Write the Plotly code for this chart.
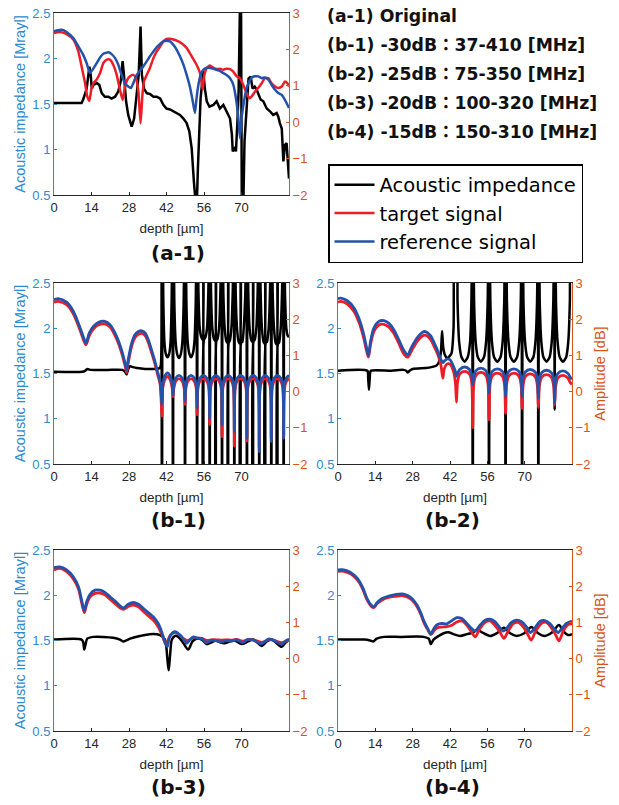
import plotly.graph_objects as go

# ---------------- DATA ----------------
# (a-1) Original
A1_IMP_DEPTH = [0, 10.3, 10.9, 12.2, 13.2, 13.7, 14.1, 14.7, 15.9, 16.9, 17.8, 19.0, 20.3, 21.5, 22.8, 24.0, 24.9, 25.6, 26.1,
                26.9, 27.7, 29.0, 29.9, 30.8, 31.6, 32.3, 32.8, 33.6, 34.6, 35.8, 37.1, 38.3, 39.6, 40.8, 42.0, 43.3, 45.1,
                47.0, 48.3, 49.5, 50.5, 51.4, 52.2, 52.7, 53.2, 53.7, 54.2, 54.7, 55.2, 55.7, 56.3, 57.0, 58.0, 59.5, 60.7,
                61.9, 63.2, 64.4, 65.7, 66.4, 66.7, 67.4, 67.9, 68.4, 68.9, 69.4, 69.8, 70.1, 70.6, 71.1, 71.9, 72.6, 73.4,
                74.1, 74.9, 75.6, 76.4, 77.1, 78.1, 79.4, 80.6, 81.8, 83.1, 83.7, 84.3, 85.0, 85.6, 86.2, 86.8, 87.3, 87.7]
A1_IMP = [1.51, 1.51, 1.55, 1.67, 1.91, 1.82, 1.67, 1.71, 1.73, 1.71, 1.62, 1.58, 1.58, 1.56, 1.58, 1.64, 1.75, 1.97, 1.82,
          1.53, 1.38, 1.25, 1.34, 1.64, 1.82, 2.35, 1.82, 1.67, 1.62, 1.61, 1.58, 1.58, 1.56, 1.49, 1.45, 1.44, 1.41,
          1.38, 1.34, 1.29, 1.20, 1.01, 0.65, 0.30, 0.30, 0.79, 1.27, 1.56, 1.71, 1.86, 1.67, 1.53, 1.47, 1.49, 1.53,
          1.45, 1.49, 1.42, 1.34, 1.16, 0.98, 1.01, 0.98, 1.27, 1.64, 2.60, 2.60, 0.30, 0.30, 1.09, 1.45, 1.78, 1.80,
          1.67, 1.69, 1.66, 1.60, 1.55, 1.53, 1.45, 1.42, 1.38, 1.40, 1.36, 1.29, 1.23, 0.87, 1.05, 1.07, 0.87, 0.68]

A1_TGT_DEPTH = [0, 2.2, 4.7, 7.2, 9.1, 10.3, 11.6, 12.4, 13.2, 13.9, 14.7, 15.9, 17.2, 18.4, 19.7, 20.9, 22.1, 23.4, 24.6,
                25.6, 26.4, 27.4, 28.4, 29.6, 30.6, 31.5, 32.3, 33.0, 33.6, 34.6, 35.8, 37.1, 38.3, 39.6, 40.8, 42.0, 43.3,
                44.5, 45.8, 47.6, 49.5, 51.4, 53.2, 54.5, 55.5, 56.0, 57.0, 58.2, 59.5, 60.7, 61.9, 63.2, 64.4, 65.7, 66.9,
                68.2, 69.4, 70.6, 71.9, 72.9, 73.8, 75.0, 76.2, 77.5, 78.7, 80.0, 81.2, 82.5, 83.7, 85.0, 86.2, 87.1, 87.7]
A1_TGT = [2.45, 2.48, 2.42, 2.27, 1.94, 1.53, 1.07, 0.71, 0.59, 0.89, 1.07, 1.17, 1.35, 1.62, 1.72, 1.72, 1.58, 1.30, 0.89,
          0.61, 0.94, 1.17, 1.26, 1.30, 1.21, 0.84, -0.03, 0.75, 1.12, 1.30, 1.49, 1.76, 1.94, 2.08, 2.22, 2.29, 2.29,
          2.27, 2.24, 2.17, 2.04, 1.81, 1.58, 1.35, 0.89, 1.26, 1.49, 1.56, 1.49, 1.46, 1.47, 1.44, 1.47, 1.46, 1.39,
          1.26, 1.21, 1.03, 0.80, 0.66, 0.71, 0.84, 0.94, 1.07, 1.21, 1.21, 1.07, 0.98, 0.94, 0.98, 1.12, 1.07, 0.98]

A1_REF_DEPTH = [0, 1.0, 2.9, 4.7, 7.2, 9.1, 10.9, 12.2, 13.4, 14.4, 15.9, 17.2, 18.4, 20.3, 21.5, 22.8, 24.0, 25.2, 26.5,
                27.7, 28.7, 29.6, 30.6, 31.8, 33.3, 34.6, 35.8, 37.1, 38.3, 39.6, 40.8, 42.0, 43.3, 44.5, 45.8, 47.0, 48.3,
                49.5, 50.7, 51.7, 52.6, 53.2, 53.9, 54.7, 55.7, 57.0, 58.2, 59.5, 60.7, 61.9, 63.2, 64.4, 65.7, 66.9, 67.9,
                68.8, 69.4, 70.0, 70.9, 71.9, 72.9, 73.8, 75.0, 76.2, 77.5, 78.7, 80.0, 81.2, 82.5, 83.7, 85.0, 86.2, 87.1, 87.7]
A1_REF = [2.50, 2.52, 2.54, 2.48, 2.31, 2.08, 1.85, 1.62, 1.35, 1.44, 1.62, 1.78, 1.88, 1.92, 1.87, 1.76, 1.58, 1.30, 1.07,
          0.98, 0.94, 1.07, 1.26, 1.39, 1.53, 1.67, 1.81, 1.94, 2.06, 2.15, 2.22, 2.24, 2.22, 2.13, 1.99, 1.81, 1.58,
          1.30, 0.98, 0.61, 0.25, 0.66, 1.03, 1.30, 1.44, 1.49, 1.49, 1.47, 1.44, 1.41, 1.35, 1.30, 1.21, 1.03, 0.66,
          0.11, -0.44, 0.11, 0.57, 0.94, 1.12, 1.23, 1.26, 1.26, 1.21, 1.23, 1.17, 1.03, 0.89, 0.80, 0.75, 0.61, 0.48, 0.39]

# (b-1) -30dB
B1_IMP_DEPTH = [0, 10.5, 11.6, 12.4, 13.5, 20.0, 25.5, 26.5, 27.1, 27.7, 28.4, 29.5, 31.0, 34.0, 37.0, 39.5, 39.9,
                40.1, 40.3, 40.5, 40.8, 41.2, 41.7, 42.35, 43.0, 43.5, 43.9, 44.2,
                44.4, 44.6, 44.9, 45.4, 46.0, 46.65, 47.3, 47.9, 48.4, 48.7,
                48.9, 49.1, 49.4, 49.9, 50.5, 51.15, 51.8, 52.4, 52.9, 53.2,
                53.4, 53.6, 53.9, 54.4, 55.0, 55.55, 55.7, 55.8, 55.95, 56.5, 57.1, 57.6, 57.9,
                58.1, 58.3, 58.6, 59.1, 59.7, 60.2, 60.35, 60.45, 60.6, 61.0, 61.6, 62.1, 62.5,
                62.7, 62.9, 63.2, 63.7, 64.3, 64.8, 64.95, 65.05, 65.2, 65.6, 66.2, 66.7, 67.1,
                67.3, 67.5, 67.8, 68.3, 68.9, 69.45, 69.6, 69.7, 69.85, 70.3, 70.8, 71.4, 71.8,
                72.0, 72.2, 72.5, 73.0, 73.6, 74.1, 74.25, 74.35, 74.5, 74.9, 75.5, 76.0, 76.4,
                76.6, 76.8, 77.1, 77.6, 78.2, 78.65, 78.8, 78.9, 79.05, 79.5, 80.1, 80.6, 80.9,
                81.1, 81.3, 81.6, 82.1, 82.7, 83.2, 83.35, 83.45, 83.6, 84.0, 84.6, 85.1, 85.5,
                85.7, 85.9, 86.2, 86.7, 87.2, 87.7]
B1_IMP = [1.52, 1.52, 1.53, 1.55, 1.54, 1.54, 1.54, 1.52, 1.49, 1.55, 1.58, 1.57, 1.56, 1.55, 1.55, 1.56, 1.60,
          3.2, -1.5, 3.2, 2.3, 1.85, 1.72, 1.68, 1.72, 1.85, 2.3, 3.2,
          -1.5, 3.2, 2.3, 1.85, 1.71, 1.67, 1.71, 1.85, 2.3, 3.2,
          -1.5, 3.2, 2.3, 1.85, 1.72, 1.68, 1.72, 1.85, 2.3, 3.2,
          -1.5, 3.2, 2.4, 2.0, 1.9, 1.87, 3.2, -1.5, 1.87, 1.9, 2.0, 2.4, 3.2,
          -1.5, 3.2, 2.4, 2.0, 1.88, 1.86, 3.2, -1.5, 1.86, 1.88, 2.0, 2.4, 3.2,
          -1.5, 3.2, 2.4, 2.0, 1.86, 1.84, 3.2, -1.5, 1.84, 1.86, 2.0, 2.4, 3.2,
          -1.5, 3.2, 2.4, 2.0, 1.85, 1.83, 3.2, -1.5, 1.84, 1.85, 2.0, 2.4, 3.2,
          -1.5, 3.2, 2.4, 2.0, 1.87, 1.85, 3.2, -1.5, 1.86, 1.87, 2.0, 2.4, 3.2,
          -1.5, 3.2, 2.4, 2.0, 1.85, 1.83, 3.2, -1.5, 1.84, 1.85, 2.0, 2.4, 3.2,
          -1.5, 3.2, 2.4, 2.0, 1.84, 1.82, 3.2, -1.5, 1.83, 1.84, 2.0, 2.4, 3.2,
          -1.5, 3.2, 2.4, 2.0, 1.92, 1.9]

B1_SIG_DEPTH = [0, 1.6, 4.7, 7.2, 9.1, 10.9, 11.9, 13.2, 14.7, 16.5, 19.0, 20.9, 23.4, 25.2, 26.5, 27.1, 27.7, 29.0, 30.2,
                31.5, 32.7, 34.0, 35.2, 36.4, 37.7, 38.6, 39.6, 40.3,
                40.6, 41.3, 42.35, 43.4, 44.1, 44.4,
                44.7, 45.4, 46.65, 47.9, 48.6, 48.9,
                49.2, 49.9, 51.15, 52.4, 53.1, 53.4,
                53.7, 54.4, 55.75, 57.1, 57.8, 58.1,
                58.4, 59.1, 60.4, 61.7, 62.4, 62.7,
                63.0, 63.7, 65.0, 66.3, 67.0, 67.3,
                67.6, 68.3, 69.65, 71.0, 71.7, 72.0,
                72.3, 73.0, 74.3, 75.6, 76.3, 76.6,
                76.9, 77.6, 78.85, 80.1, 80.8, 81.1,
                81.4, 82.1, 83.4, 84.7, 85.4, 85.7,
                86.0, 86.7, 87.7]
B1_TGT = [2.47, 2.49, 2.40, 2.15, 1.82, 1.45, 1.29, 1.55, 1.73, 1.84, 1.87, 1.78, 1.45, 1.08, 0.72, 0.52, 0.80, 1.26, 1.49,
          1.58, 1.61, 1.55, 1.36, 1.08, 0.76, 0.49, 0.20, -0.68,
          0.10, 0.32, 0.42, 0.32, 0.10, -0.14,
          0.08, 0.28, 0.36, 0.28, 0.08, -0.36,
          0.08, 0.28, 0.36, 0.28, 0.08, -0.64,
          0.08, 0.28, 0.36, 0.28, 0.08, -0.91,
          0.08, 0.28, 0.36, 0.28, 0.08, -1.24,
          0.08, 0.28, 0.36, 0.28, 0.08, -1.51,
          0.08, 0.28, 0.36, 0.28, 0.08, -1.37,
          0.08, 0.28, 0.36, 0.28, 0.08, -1.57,
          0.08, 0.28, 0.36, 0.28, 0.08, -1.33,
          0.08, 0.28, 0.36, 0.28, 0.08, -1.28,
          0.08, 0.28, 0.36]
B1_REF = [2.54, 2.57, 2.47, 2.22, 1.89, 1.52, 1.34, 1.62, 1.80, 1.91, 1.94, 1.85, 1.52, 1.15, 0.79, 0.60, 0.88, 1.34, 1.57,
          1.66, 1.68, 1.62, 1.43, 1.15, 0.83, 0.56, 0.28, -0.35,
          0.20, 0.42, 0.52, 0.42, 0.20, -0.09,
          0.17, 0.37, 0.45, 0.37, 0.17, -0.27,
          0.17, 0.37, 0.45, 0.37, 0.17, -0.46,
          0.17, 0.37, 0.45, 0.37, 0.17, -0.74,
          0.17, 0.37, 0.45, 0.37, 0.17, -0.92,
          0.17, 0.37, 0.45, 0.37, 0.17, -1.10,
          0.17, 0.37, 0.45, 0.37, 0.17, -1.29,
          0.17, 0.37, 0.45, 0.37, 0.17, -1.66,
          0.17, 0.37, 0.45, 0.37, 0.17, -1.38,
          0.17, 0.37, 0.45, 0.37, 0.17, -1.29,
          0.17, 0.37, 0.45]

# (b-2) -25dB
B2_IMP_DEPTH = [0, 11.0, 11.3, 11.6, 11.9, 12.3, 20.0, 24.5, 25.6, 26.1, 26.8, 28.0, 33.0, 35.0, 37.0, 38.0, 38.6, 39.0,
                39.4, 40.0, 41.0, 42.5, 43.3, 43.9,
                44.4, 44.8, 45.4, 46.3, 47.45, 48.6, 49.5, 50.0, 50.3,
                50.5, 50.7, 51.0, 51.6, 52.4, 53.55, 54.7, 55.5, 56.1, 56.4,
                56.6, 56.8, 57.1, 57.7, 58.5, 59.7, 60.9, 61.7, 62.3, 62.6,
                62.8, 63.0, 63.3, 63.9, 64.7, 65.9, 67.1, 67.9, 68.5, 68.8,
                69.0, 69.2, 69.5, 70.1, 70.9, 72.05, 73.2, 74.0, 74.6, 74.9,
                75.1, 75.3, 75.6, 76.2, 77.0, 78.15, 79.3, 80.1, 80.7, 81.0,
                81.2, 81.4, 81.7, 82.3, 83.1, 84.3, 85.5, 86.3, 86.9, 87.3, 87.7]
B2_IMP = [1.53, 1.53, 1.45, 1.32, 1.45, 1.53, 1.53, 1.54, 1.53, 1.51, 1.53, 1.55, 1.56, 1.57, 1.59, 1.64, 1.75, 1.97,
          1.80, 1.71, 1.67, 1.72, 2.0, 3.2,
          3.2, 2.3, 1.85, 1.68, 1.63, 1.68, 1.85, 2.3, 3.2,
          -1.5, 3.2, 2.3, 1.85, 1.68, 1.63, 1.68, 1.85, 2.3, 3.2,
          -1.5, 3.2, 2.3, 1.85, 1.68, 1.63, 1.68, 1.85, 2.3, 3.2,
          -1.5, 3.2, 2.3, 1.85, 1.68, 1.63, 1.68, 1.85, 2.3, 3.2,
          -1.5, 3.2, 2.3, 1.85, 1.68, 1.63, 1.68, 1.85, 2.3, 3.2,
          -1.5, 3.2, 2.3, 1.85, 1.68, 1.63, 1.68, 1.85, 2.3, 3.2,
          1.1, 3.2, 2.3, 1.85, 1.68, 1.63, 1.68, 1.85, 2.3, 3.2, 3.2]

B2_SIG_DEPTH = [0, 1.0, 3.5, 6.0, 7.8, 9.5, 10.6, 11.4, 12.2, 13.4, 15.3, 17.2, 19.0, 20.9, 22.8, 24.6, 26.1, 27.7, 29.6,
                31.5, 32.7, 34.6, 36.4, 37.7, 38.6, 39.3, 39.8, 40.8, 42.0, 43.3, 44.0, 44.4,
                44.8, 45.6, 47.45, 49.3, 50.1, 50.5,
                50.9, 51.7, 53.55, 55.4, 56.2, 56.6,
                57.0, 57.8, 59.7, 61.6, 62.4, 62.8,
                63.2, 64.0, 65.9, 67.8, 68.6, 69.0,
                69.4, 70.2, 72.05, 73.9, 74.7, 75.1,
                75.5, 76.3, 78.15, 80.0, 80.8, 81.2,
                81.6, 82.4, 84.3, 86.2, 87.0, 87.7]
B2_TGT = [2.47, 2.49, 2.42, 2.21, 1.93, 1.52, 1.16, 0.95, 1.30, 1.65, 1.84, 1.86, 1.79, 1.61, 1.33, 1.05, 0.95, 1.15, 1.38,
          1.53, 1.56, 1.45, 1.19, 0.96, 0.72, 0.37, 0.62, 0.76, 0.76, 0.55, 0.25, -0.29,
          0.25, 0.48, 0.56, 0.48, 0.25, -1.00,
          0.22, 0.45, 0.53, 0.45, 0.22, -0.78,
          0.20, 0.43, 0.51, 0.43, 0.20, -0.60,
          0.20, 0.43, 0.51, 0.43, 0.20, -0.46,
          0.18, 0.41, 0.49, 0.41, 0.18, -0.44,
          0.16, 0.39, 0.47, 0.39, 0.16, -0.37,
          0.14, 0.37, 0.45, 0.37, 0.25, 0.20]
B2_REF = [2.57, 2.58, 2.51, 2.31, 2.03, 1.62, 1.25, 1.00, 1.39, 1.75, 1.94, 1.96, 1.89, 1.71, 1.43, 1.15, 1.02, 1.25, 1.48,
          1.63, 1.66, 1.55, 1.29, 1.06, 0.88, 0.80, 0.84, 0.90, 0.88, 0.69, 0.55, 0.42,
          0.50, 0.61, 0.68, 0.61, 0.46, 0.19,
          0.43, 0.58, 0.65, 0.58, 0.43, -0.04,
          0.41, 0.56, 0.63, 0.56, 0.41, -0.14,
          0.41, 0.56, 0.63, 0.56, 0.41, -0.14,
          0.39, 0.54, 0.61, 0.54, 0.39, -0.18,
          0.37, 0.52, 0.59, 0.52, 0.37, -0.32,
          0.35, 0.50, 0.57, 0.50, 0.40, 0.34]

# (b-3) -20dB
B3_IMP_DEPTH = [0, 10.3, 10.9, 11.3, 11.8, 12.4, 14.7, 18.4, 22.1, 24.6, 25.9, 28.4, 32.1, 35.8, 39.6, 41.4, 42.3, 42.8,
                43.3, 44.0, 45.1, 46.4, 48.3, 50.1, 51.7, 53.2, 55.1, 57.0, 58.8, 60.4, 61.9, 63.8, 65.7, 67.5, 70.0,
                72.5, 74.4, 77.5, 79.4, 81.2, 85.0, 86.2, 87.7]
B3_IMP = [1.51, 1.51, 1.48, 1.40, 1.46, 1.52, 1.54, 1.54, 1.53, 1.51, 1.49, 1.52, 1.55, 1.57, 1.56, 1.51, 1.30, 1.17,
          1.33, 1.51, 1.55, 1.54, 1.47, 1.40, 1.49, 1.52, 1.51, 1.46, 1.48, 1.50, 1.48, 1.47, 1.49, 1.50, 1.46,
          1.49, 1.51, 1.44, 1.49, 1.51, 1.43, 1.47, 1.51]
B3_SIG_DEPTH = [0, 2.2, 4.7, 7.2, 9.1, 10.3, 11.3, 12.2, 13.4, 15.3, 17.2, 19.0, 20.9, 22.8, 24.6, 25.9, 27.7, 29.6, 31.5,
                33.3, 35.2, 37.1, 38.9, 40.5, 41.5, 42.3, 43.0, 44.3, 45.5, 47.0, 48.3, 49.5, 50.7, 52.0, 53.2, 55.1,
                57.0, 58.8, 60.7, 62.6, 64.4, 66.3, 68.2, 70.4, 72.5, 74.4, 77.5, 80.0, 81.8, 85.0, 86.8, 87.7]
B3_TGT = [2.45, 2.49, 2.40, 2.20, 1.93, 1.55, 1.27, 1.50, 1.70, 1.80, 1.81, 1.76, 1.64, 1.52, 1.40, 1.36, 1.44, 1.48, 1.43,
          1.31, 1.18, 1.06, 0.88, 0.62, 0.45, 0.45, 0.60, 0.70, 0.72, 0.64, 0.55, 0.50, 0.52, 0.58, 0.57, 0.56,
          0.50, 0.52, 0.52, 0.51, 0.52, 0.51, 0.53, 0.48, 0.53, 0.52, 0.45, 0.52, 0.51, 0.44, 0.49, 0.50]
B3_REF = [2.51, 2.53, 2.45, 2.26, 1.99, 1.62, 1.32, 1.57, 1.77, 1.89, 1.89, 1.83, 1.71, 1.59, 1.46, 1.40, 1.50, 1.55, 1.50,
          1.39, 1.27, 1.15, 0.97, 0.67, 0.42, 0.33, 0.57, 0.72, 0.74, 0.65, 0.54, 0.42, 0.52, 0.60, 0.57, 0.56,
          0.44, 0.51, 0.49, 0.46, 0.50, 0.49, 0.52, 0.44, 0.53, 0.51, 0.41, 0.54, 0.51, 0.40, 0.51, 0.53]

# (b-4) -15dB
B4_IMP_DEPTH = [0, 10.0, 12.0, 13.2, 14.5, 17.2, 23.4, 32.1, 34.0, 34.8, 35.8, 37.7, 39.6, 41.4, 43.3, 45.8, 48.3, 50.7,
                52.0, 54.0, 57.0, 59.5, 62.2, 64.5, 66.9, 69.8, 72.5, 75.0, 77.5, 80.3, 82.8, 84.5, 86.2, 87.7]
B4_IMP = [1.51, 1.51, 1.50, 1.49, 1.52, 1.54, 1.54, 1.54, 1.52, 1.46, 1.51, 1.55, 1.58, 1.59, 1.57, 1.55, 1.57, 1.59,
          1.62, 1.59, 1.55, 1.58, 1.64, 1.58, 1.55, 1.58, 1.65, 1.58, 1.55, 1.59, 1.67, 1.60, 1.56, 1.57]
B4_REF_DEPTH = [0, 2.2, 4.7, 7.2, 9.1, 10.9, 12.4, 13.4, 14.7, 16.5, 19.0, 21.5, 24.0, 25.9, 27.7, 29.6, 31.1, 32.3, 33.6,
                34.8, 36.1, 37.3, 38.9, 40.8, 42.7, 44.5, 46.4, 48.3, 50.1, 51.4, 53.2, 55.1, 57.0, 58.8, 60.7, 61.9,
                63.2, 65.0, 66.9, 68.8, 70.6, 72.1, 73.8, 75.6, 77.5, 79.4, 81.2, 82.5, 84.1, 85.6, 87.7]
B4_REF = [2.45, 2.45, 2.38, 2.22, 1.99, 1.66, 1.48, 1.43, 1.55, 1.66, 1.73, 1.77, 1.79, 1.75, 1.66, 1.48, 1.25, 1.02, 0.83,
          0.69, 0.85, 0.94, 0.97, 0.96, 1.05, 1.13, 1.11, 0.97, 0.83, 0.76, 0.92, 1.06, 1.09, 1.02, 0.85, 0.76,
          0.83, 1.00, 1.06, 1.02, 0.88, 0.72, 0.85, 1.02, 1.05, 0.97, 0.81, 0.72, 0.85, 0.97, 1.04]
B4_TGT_DEPTH = [0, 2.2, 4.7, 7.2, 9.1, 10.9, 12.4, 13.4, 14.7, 16.5, 19.0, 21.5, 24.0, 25.9, 27.7, 29.6, 31.1, 32.3, 33.6,
                34.8, 36.1, 37.3, 38.9, 40.8, 42.7, 44.5, 46.4, 48.3, 50.1, 51.4, 53.2, 55.1, 57.0, 58.8, 60.7, 62.2,
                63.8, 65.7, 67.5, 69.4, 70.9, 72.4, 74.1, 76.2, 78.1, 80.0, 81.6, 82.8, 84.6, 86.2, 87.7]
B4_TGT = [2.41, 2.41, 2.34, 2.18, 1.95, 1.62, 1.45, 1.41, 1.52, 1.62, 1.69, 1.72, 1.74, 1.70, 1.62, 1.44, 1.21, 0.98, 0.80,
          0.66, 0.78, 0.85, 0.87, 0.88, 0.92, 1.01, 1.04, 0.92, 0.73, 0.60, 0.83, 1.00, 1.04, 0.92, 0.73, 0.56,
          0.76, 0.97, 1.00, 0.88, 0.70, 0.51, 0.76, 0.97, 1.00, 0.85, 0.65, 0.49, 0.79, 0.94, 0.97]

X_TICKS = [0, 14, 28, 42, 56, 70]
Y_LEFT_TICKS = [0.5, 1, 1.5, 2, 2.5]
Y_LEFT_TEXT = ["0.5", "1", "1.5", "2", "2.5"]
Y_RIGHT_TICKS = [-2, -1, 0, 1, 2, 3]

PANEL_LABELS = ["(a-1)", "(b-1)", "(b-2)", "(b-3)", "(b-4)"]
INFO_LINES = ["(a-1) Original",
              "(b-1) -30dB\uff1a37-410 [MHz]",
              "(b-2) -25dB\uff1a75-350 [MHz]",
              "(b-3) -20dB\uff1a100-320 [MHz]",
              "(b-4) -15dB\uff1a150-310 [MHz]"]
SERIES_NAMES = ["Acoustic impedance", "target signal", "reference signal"]

# ---------------- STYLE ----------------
W, H = 619, 805
BLUE_AX = "#2B8AD0"
ORANGE_AX = "#D95319"
C_IMP = "#000000"
C_TGT = "#EE1C25"
C_REF = "#2452AB"
DARK = "#262626"
FONT = "Liberation Sans, Arial, sans-serif"
WFONT = "DejaVu Sans, Noto Sans CJK JP, sans-serif"

def px_x(p):
    return p / W

def px_y(p):
    return 1 - p / H

# panel boxes in pixels: (left, right, top, bottom)
boxes = [(54, 289, 13, 195), (54, 289, 283, 464), (338, 572, 283, 464),
         (54, 289, 550, 731), (338, 572, 550, 731)]
left_title = [True, True, False, True, False]
right_title = [False, False, True, False, True]

panels = [
    (A1_IMP_DEPTH, A1_IMP, A1_TGT_DEPTH, A1_TGT, A1_REF_DEPTH, A1_REF, 2.5, 0.5, 0.0),
    (B1_IMP_DEPTH, B1_IMP, B1_SIG_DEPTH, B1_TGT, B1_SIG_DEPTH, B1_REF, 2.8, 0.8, 0.6),
    (B2_IMP_DEPTH, B2_IMP, B2_SIG_DEPTH, B2_TGT, B2_SIG_DEPTH, B2_REF, 2.8, 0.8, 0.6),
    (B3_IMP_DEPTH, B3_IMP, B3_SIG_DEPTH, B3_TGT, B3_SIG_DEPTH, B3_REF, 2.8, 0.8, 0.8),
    (B4_IMP_DEPTH, B4_IMP, B4_TGT_DEPTH, B4_TGT, B4_REF_DEPTH, B4_REF, 2.8, 0.8, 0.8),
]

def line_style(color, width, smooth):
    if smooth > 0:
        return dict(color=color, width=width, shape="spline", smoothing=smooth)
    return dict(color=color, width=width)

fig = go.Figure()
layout = {}
for i, (box, pdata) in enumerate(zip(boxes, panels)):
    n = i + 1
    xs = "" if n == 1 else str(n)
    yl = "" if n == 1 else str(n)
    yr = str(n + 5)
    l, r, t, b = box
    xd = [px_x(l), px_x(r)]
    yd = [px_y(b), px_y(t)]
    imp_d, imp, tgt_d, tgt, ref_d, ref, lw, sm_sig, sm_imp = pdata
    show = (n == 1)
    fig.add_trace(go.Scatter(x=imp_d, y=imp, mode="lines", name=SERIES_NAMES[0],
                             line=line_style(C_IMP, 2.5, sm_imp), showlegend=show, legendrank=1,
                             xaxis="x" + xs, yaxis="y" + yl))
    fig.add_trace(go.Scatter(x=tgt_d, y=tgt, mode="lines", name=SERIES_NAMES[1],
                             line=line_style(C_TGT, lw, sm_sig), showlegend=show, legendrank=2,
                             xaxis="x" + xs, yaxis="y" + yr))
    fig.add_trace(go.Scatter(x=ref_d, y=ref, mode="lines", name=SERIES_NAMES[2],
                             line=line_style(C_REF, lw, sm_sig), showlegend=show, legendrank=3,
                             xaxis="x" + xs, yaxis="y" + yr))
    layout["xaxis" + xs] = dict(
        domain=xd, anchor="y" + yl, range=[0, 87.7], tickmode="array", tickvals=X_TICKS,
        showline=True, linecolor=DARK, linewidth=1, mirror=True, ticks="inside", ticklen=3,
        tickcolor=DARK, showgrid=False, zeroline=False, automargin=False,
        tickfont=dict(family=FONT, size=13, color=DARK),
        title=dict(text="depth [\u00b5m]", font=dict(family=FONT, size=13.5, color=DARK), standoff=9))
    layout["yaxis" + yl] = dict(
        domain=yd, anchor="x" + xs, range=[0.5, 2.5], tickmode="array", tickvals=Y_LEFT_TICKS,
        ticktext=Y_LEFT_TEXT, showline=True, linecolor=BLUE_AX, linewidth=1, ticks="inside",
        ticklen=3, tickcolor=BLUE_AX, showgrid=False, zeroline=False, automargin=False,
        ticklabeloverflow="allow",
        tickfont=dict(family=FONT, size=13, color=BLUE_AX),
        title=dict(text="Acoustic impedance [Mrayl]" if left_title[i] else "",
                   font=dict(family=FONT, size=14.5, color=BLUE_AX), standoff=3))
    layout["yaxis" + yr] = dict(
        overlaying="y" + yl, anchor="x" + xs, side="right", range=[-2, 3], tickmode="array",
        tickvals=Y_RIGHT_TICKS, showline=True, linecolor=ORANGE_AX, linewidth=1, ticks="inside",
        ticklen=3, tickcolor=ORANGE_AX, showgrid=False, zeroline=False, automargin=False,
        ticklabeloverflow="allow",
        tickfont=dict(family=FONT, size=13, color=ORANGE_AX),
        title=dict(text="Amplitude [dB]" if right_title[i] else "",
                   font=dict(family=FONT, size=14.5, color=ORANGE_AX), standoff=5))

annotations = []
label_pos = [(178, 253), (178, 520), (453, 520), (178, 787), (453, 787)]
for txt, (cx, cy) in zip(PANEL_LABELS, label_pos):
    annotations.append(dict(x=px_x(cx), y=px_y(cy), xref="paper", yref="paper", text="<b>" + txt + "</b>",
                            showarrow=False, xanchor="center", yanchor="middle",
                            font=dict(family=WFONT, size=20, color="#111111")))
info_y = [16, 45, 74, 103, 132]
for txt, cy in zip(INFO_LINES, info_y):
    annotations.append(dict(x=px_x(325), y=px_y(cy), xref="paper", yref="paper", text="<b>" + txt + "</b>",
                            showarrow=False, xanchor="left", yanchor="middle",
                            font=dict(family=WFONT, size=17.3, color="#111111")))

fig.update_layout(
    width=W, height=H, margin=dict(l=0, r=0, t=0, b=0, autoexpand=False),
    paper_bgcolor="white", plot_bgcolor="white",
    showlegend=True,
    legend=dict(x=px_x(328), y=px_y(164), xanchor="left", yanchor="top",
                bordercolor="black", borderwidth=1.5, bgcolor="white",
                font=dict(family=WFONT, size=19.5, color="black"),
                tracegroupgap=0, itemwidth=40),
    annotations=annotations,
    **layout)

# remove the browser's default 8px page margin so the figure sits at the window origin
fig.write_html("out.html", config={"displayModeBar": False},
               post_script="document.body.style.margin='0px';")
